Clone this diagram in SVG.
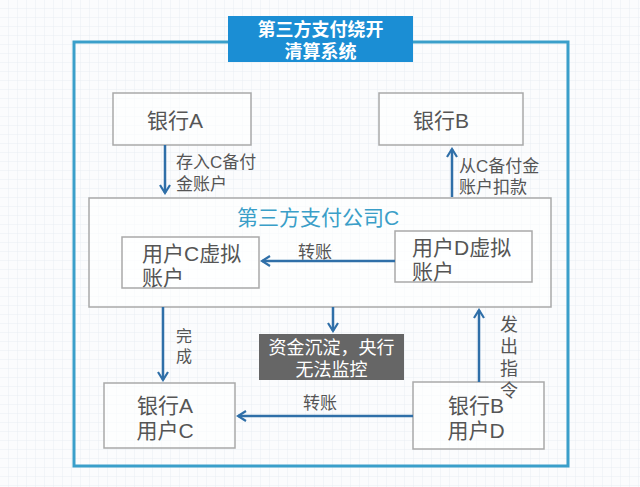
<svg xmlns="http://www.w3.org/2000/svg" width="640" height="487" viewBox="0 0 640 487">
<defs>
<pattern id="grid" width="9" height="9" patternUnits="userSpaceOnUse">
<path d="M9 0V9M0 9H9" fill="none" stroke="#e9eef3" stroke-width="1"/>
</pattern>
<marker id="ah" viewBox="0 0 12 12" refX="10" refY="6" markerWidth="12" markerHeight="12" markerUnits="userSpaceOnUse" orient="auto">
<path d="M2 1L10 6L2 11" fill="none" stroke="#2f6fa8" stroke-width="2.2" stroke-linejoin="miter"/>
</marker>
</defs>
<style>
text{font-family:"Liberation Sans","Noto Sans CJK SC",sans-serif;}
.box{fill:#ffffff;fill-opacity:0.55;stroke:#a9a9a9;stroke-width:1.5;}
.t{font-size:21px;fill:#555555;}
.lbl{font-size:17px;fill:#555555;}
.conn{stroke:#2f6fa8;stroke-width:2.5;fill:none;marker-end:url(#ah);}
</style>
<rect width="640" height="487" fill="#fbfcfd"/>
<rect width="640" height="487" fill="url(#grid)"/>
<g id="frame">
<rect x="74" y="42" width="494" height="424" fill="none" stroke="#3a9fca" stroke-width="3"/>
</g>
<g id="title">
<rect x="228" y="16" width="185" height="46" fill="#1b8ed4"/>
<text x="320.5" y="36" font-size="18" font-weight="bold" fill="#ffffff" text-anchor="middle">第三方支付绕开</text>
<text x="320.5" y="58" font-size="18" font-weight="bold" fill="#ffffff" text-anchor="middle">清算系统</text>
</g>
<g id="bankA">
<rect class="box" x="113" y="93" width="138" height="52"/>
<text class="t" x="147" y="128">银行A</text>
</g>
<g id="bankB">
<rect class="box" x="379" y="93" width="144" height="52"/>
<text class="t" x="413" y="128">银行B</text>
</g>
<g id="companyC">
<rect class="box" x="89" y="198" width="462" height="109"/>
<text x="237" y="225" font-size="21" fill="#3a9ec8">第三方支付公司C</text>
</g>
<g id="userCvirt">
<rect class="box" x="122" y="237" width="137" height="51"/>
<text class="t" x="142" y="261">用户C虚拟</text>
<text class="t" x="142" y="285">账户</text>
</g>
<g id="userDvirt">
<rect class="box" x="395" y="231" width="137" height="51"/>
<text class="t" x="412" y="255">用户D虚拟</text>
<text class="t" x="412" y="279">账户</text>
</g>
<g id="pool">
<rect x="259" y="334" width="145" height="46" fill="#666666"/>
<text x="331.5" y="354" font-size="18" fill="#ffffff" text-anchor="middle">资金沉淀，央行</text>
<text x="331.5" y="376" font-size="18" fill="#ffffff" text-anchor="middle">无法监控</text>
</g>
<g id="bankAuserC">
<rect class="box" x="104" y="383" width="131" height="65"/>
<text class="t" x="165" y="413" text-anchor="middle">银行A</text>
<text class="t" x="165" y="438" text-anchor="middle">用户C</text>
</g>
<g id="bankBuserD">
<rect class="box" x="413" y="382" width="131" height="67"/>
<text class="t" x="476" y="413" text-anchor="middle">银行B</text>
<text class="t" x="476" y="438" text-anchor="middle">用户D</text>
</g>
<g id="connectors">
<line class="conn" x1="165" y1="145" x2="165" y2="193"/>
<line class="conn" x1="452" y1="197" x2="452" y2="149"/>
<line class="conn" x1="395" y1="261" x2="262" y2="261"/>
<line class="conn" x1="333" y1="307" x2="333" y2="331"/>
<line class="conn" x1="163" y1="307" x2="163" y2="380"/>
<line class="conn" x1="413" y1="416" x2="238" y2="416"/>
<line class="conn" x1="479" y1="382" x2="479" y2="310"/>
<text class="lbl" x="176" y="168">存入C备付</text>
<text class="lbl" x="176" y="190">金账户</text>
<text class="lbl" x="459" y="172">从C备付金</text>
<text class="lbl" x="459" y="193">账户扣款</text>
<text class="lbl" x="298" y="258">转账</text>
<text class="lbl" x="303" y="409">转账</text>
<text x="184" y="342" font-size="16" fill="#555555" text-anchor="middle">完</text>
<text x="184" y="362" font-size="16" fill="#555555" text-anchor="middle">成</text>
<text x="509" y="331" font-size="18" fill="#555555" text-anchor="middle">发</text>
<text x="509" y="353" font-size="18" fill="#555555" text-anchor="middle">出</text>
<text x="509" y="375" font-size="18" fill="#555555" text-anchor="middle">指</text>
<text x="509" y="397" font-size="18" fill="#555555" text-anchor="middle">令</text>
</g>
</svg>
